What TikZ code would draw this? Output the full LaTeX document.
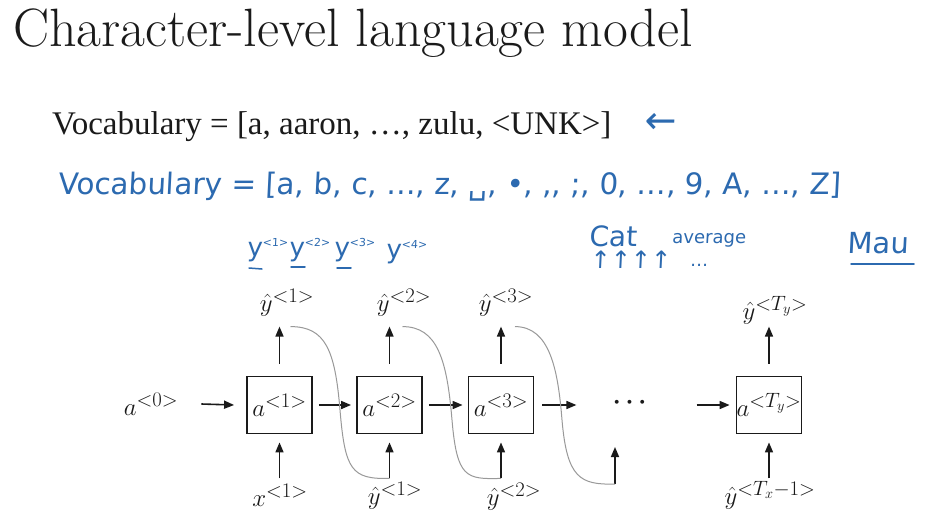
\documentclass[tikz,border=0pt]{standalone}
\usepackage{amsmath}
\usepackage{fontspec}
\newfontfamily\printfont{Liberation Serif}
\newfontfamily\hand[FakeSlant=0.05]{DejaVu Sans}
\usetikzlibrary{arrows.meta}
\definecolor{ink}{RGB}{26,26,26}
\definecolor{pen}{RGB}{44,106,176}
\tikzset{
  cell/.style={draw=ink, line width=1.8pt, minimum width=65pt, minimum height=57pt, inner sep=0pt},
  arr/.style={-{Triangle[length=10pt,width=8pt]}, line width=1.6pt, draw=ink},
  feed/.style={draw=black!40, line width=1pt},
  lbl/.style={text=ink, inner sep=0pt, font=\fontsize{30}{32}\selectfont},
  note/.style={text=pen, inner sep=0pt, font=\hand\fontsize{26}{28}\selectfont},
  penline/.style={draw=pen, line width=1.5pt, line cap=round}
}
\begin{document}
\begin{tikzpicture}[x=1pt,y=-1pt]
  \useasboundingbox[fill=white] (0,0) rectangle (951,520);
  % heading and vocabulary
  \node[anchor=base west, inner sep=0pt, text=ink, font=\fontsize{54}{56}\selectfont] (title) at (13,46) {Character-level language model};
  \node[anchor=base west, inner sep=0pt, text=ink, font=\printfont\fontsize{33}{36}\selectfont] (vocab) at (52,134) {Vocabulary = [a, aaron, \dots, zulu, <UNK>]};
  \node[note, anchor=west, font=\hand\fontsize{38}{38}\selectfont] (point) at (644,123) {←};
  \node[note, anchor=base west, font=\hand\fontsize{29.5}{30}\selectfont] (chars) at (58,194) {Vocabulary = [a, b, c, …, z, ␣, •, ,, ;, 0, …, 9, A, …, Z]};
  % handwritten notes
  \node[note, anchor=base west] (w1) at (247,256) {y\raisebox{10pt}{\fontsize{11}{11}\selectfont<1>}};
  \node[note, anchor=base west] (w2) at (289,256) {y\raisebox{10pt}{\fontsize{11}{11}\selectfont<2>}};
  \node[note, anchor=base west] (w3) at (334,256) {y\raisebox{10pt}{\fontsize{11}{11}\selectfont<3>}};
  \node[note, anchor=base west] (w4) at (386,258) {y\raisebox{10pt}{\fontsize{11}{11}\selectfont<4>}};
  \draw[penline] (249,268) -- (262,269);
  \draw[penline] (291,267) -- (305,267);
  \draw[penline] (337,268) -- (351,268);
  \node[note, anchor=base west, font=\hand\fontsize{28}{30}\selectfont] (cat) at (589,246) {Cat};
  \node[note, anchor=base west, font=\hand\fontsize{18}{20}\selectfont] (avg) at (672,243) {average};
  \node[note, anchor=base west, font=\hand\fontsize{24}{24}\selectfont] (ups) at (590,268) {↑↑↑↑};
  \node[note, anchor=base west, font=\hand\fontsize{18}{20}\selectfont] (more) at (690,266) {…};
  \node[note, anchor=base west, font=\hand\fontsize{29}{30}\selectfont] (mau) at (847,253) {Mau};
  \draw[penline] (851,264) -- (914,264);
  % recurrent cells
  \node[lbl] (a0) at (151,404) {$a^{<0>}$};
  \node[cell] (c1) at (279.5,405) {};
  \node[cell] (c2) at (389.5,405) {};
  \node[cell] (c3) at (501,405) {};
  \node[lbl] (dots) at (632,403) {$\boldsymbol{\cdots}$};
  \node[cell] (cT) at (769,405) {};
  \node[lbl] at (c1) {$a^{<1>}$};
  \node[lbl] at (c2) {$a^{<2>}$};
  \node[lbl] at (c3) {$a^{<3>}$};
  \node[lbl] at (cT) {$a^{<T_y>}$};
  % outputs and inputs
  \node[lbl] (y1) at (287,303) {$\hat{y}^{<1>}$};
  \node[lbl] (y2) at (404,303) {$\hat{y}^{<2>}$};
  \node[lbl] (y3) at (506,303) {$\hat{y}^{<3>}$};
  \node[lbl] (yT) at (775,310) {$\hat{y}^{<T_y>}$};
  \node[lbl] (x1) at (280,495) {$x^{<1>}$};
  \node[lbl] (in1) at (395,496) {$\hat{y}^{<1>}$};
  \node[lbl] (in2) at (514,497) {$\hat{y}^{<2>}$};
  \node[lbl] (inT) at (770,495) {$\hat{y}^{<T_x-1>}$};
  % arrows
  \draw[arr] ([xshift=23pt]a0.east) -- ([xshift=-12pt]c1.west);
  \draw[arr, shorten <=6pt, shorten >=5pt] (c1.east) -- (c2.west);
  \draw[arr, shorten <=6pt, shorten >=5pt] (c2.east) -- (c3.west);
  \draw[arr] ([xshift=8pt]c3.east) -- ([xshift=42pt]c3.east);
  \draw[arr] ([xshift=-39pt]cT.west) -- ([xshift=-6pt]cT.west);
  \foreach \c in {c1,c2,c3,cT}{
    \draw[arr] ([yshift=12pt]\c.north) -- ([yshift=49pt]\c.north);
    \draw[arr] ([yshift=-44pt]\c.south) -- ([yshift=-8pt]\c.south);
  }
  \coordinate (f4) at (615,484);
  \draw[arr] (f4) -- ([yshift=37pt]f4);
  % sampled outputs fed back
  \draw[feed] ([xshift=11pt,yshift=49pt]c1.north) .. controls +(35,0) and +(-5,-60) .. (340,410)
    .. controls +(5,60) and +(-38,1) .. ([yshift=-44pt]c2.south);
  \draw[feed] ([xshift=13pt,yshift=49pt]c2.north) .. controls +(35,0) and +(-5,-60) .. (452,420)
    .. controls +(5,58) and +(-35,1) .. ([yshift=-44pt]c3.south);
  \draw[feed] ([xshift=14pt,yshift=49pt]c3.north) .. controls +(35,0) and +(-4,-50) .. (562,420)
    .. controls +(5,58) and +(-35,1) .. (f4);
\end{tikzpicture}
\end{document}
